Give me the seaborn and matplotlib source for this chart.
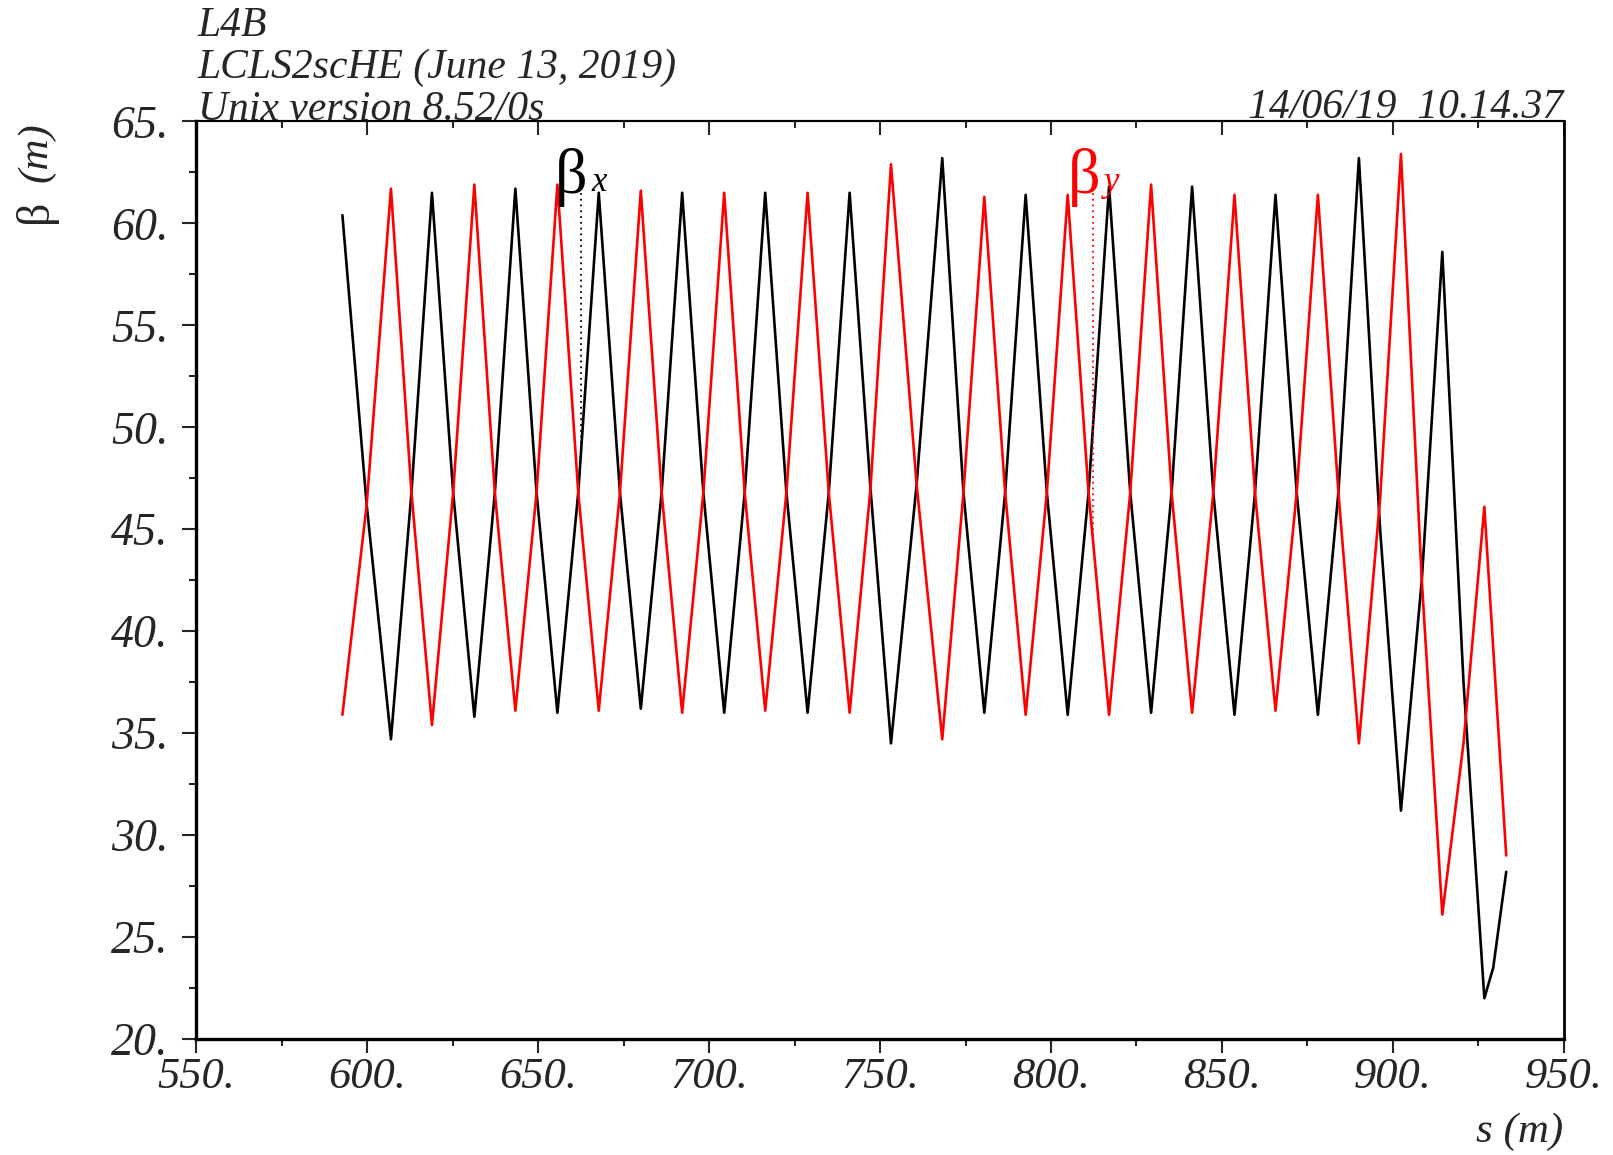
import numpy as np
import pandas as pd
import matplotlib
matplotlib.use("Agg")
import matplotlib.pyplot as plt
import seaborn as sns
from matplotlib.ticker import MultipleLocator, FormatStrFormatter

# ------------------ data ------------------
# peaks, valleys and the crossing level half way between them
s_x = [592.7, 599.8, 606.9, 612.9, 618.9, 625.1, 631.3, 637.3, 643.3, 649.5,
       655.6, 661.7, 667.7, 673.9, 680.0, 686.1, 692.1, 698.3, 704.4, 710.4,
       716.4, 722.6, 728.8, 735.0, 741.1, 747.2, 753.2, 760.7, 768.2, 774.4,
       780.5, 786.6, 792.6, 798.8, 804.9, 811.0, 817.0, 823.2, 829.3, 835.3,
       841.3, 847.5, 853.7, 859.7, 865.7, 871.9, 878.1, 884.1, 890.1, 896.3,
       902.4, 908.5, 914.5, 920.7, 926.8, 929.4, 933.2]
beta_x = [60.4, 46.2, 34.7, 46.8, 61.5, 46.8, 35.8, 46.8, 61.7, 46.8,
          36.0, 46.8, 61.5, 46.8, 36.2, 46.8, 61.5, 46.8, 36.0, 46.8,
          61.5, 46.8, 36.0, 46.8, 61.5, 47.0, 34.5, 47.2, 63.2, 46.8,
          36.0, 46.8, 61.4, 46.8, 35.9, 46.8, 61.8, 46.8, 36.0, 46.8,
          61.8, 46.8, 35.9, 46.8, 61.4, 46.8, 35.9, 46.8, 63.2, 45.0,
          31.2, 42.5, 58.6, 37.5, 22.0, 23.5, 28.2]

s_y = [592.7, 599.8, 606.9, 612.9, 618.9, 625.1, 631.3, 637.3, 643.3, 649.5,
       655.6, 661.7, 667.7, 673.9, 680.0, 686.1, 692.1, 698.3, 704.4, 710.4,
       716.4, 722.6, 728.8, 735.0, 741.1, 747.2, 753.2, 760.7, 768.2, 774.4,
       780.5, 786.6, 792.6, 798.8, 804.9, 811.0, 817.0, 823.2, 829.3, 835.3,
       841.3, 847.5, 853.7, 859.7, 865.7, 871.9, 878.1, 884.1, 890.1, 896.3,
       902.4, 908.5, 914.5, 920.7, 926.8, 933.2]
beta_y = [35.9, 46.2, 61.7, 46.8, 35.4, 46.8, 61.9, 46.8, 36.1, 46.8,
          61.9, 46.8, 36.1, 46.8, 61.6, 46.8, 36.0, 46.8, 61.5, 46.8,
          36.1, 46.8, 61.5, 46.8, 36.0, 47.0, 62.9, 47.2, 34.7, 46.8,
          61.3, 46.8, 35.9, 46.8, 61.4, 46.8, 35.9, 46.8, 61.9, 46.8,
          36.0, 46.8, 61.4, 46.8, 36.1, 46.8, 61.4, 46.8, 34.5, 46.5,
          63.4, 42.5, 26.1, 34.5, 46.1, 29.0]

# curve labels: position (s, beta) and where the dotted marker sits
label_s = [655.0, 804.9]
label_beta = [61.5, 61.5]
marker_s = [662.6, 812.4]
label_sub = ["x", "y"]
colors = ["black", "red"]

header_lines = ["L4B", "LCLS2scHE (June 13, 2019)", "Unix version 8.52/0s"]
stamp = "14/06/19  10.14.37"

# ------------------ plot ------------------
sns.set_style("white")
plt.rcParams["font.family"] = ["Liberation Serif", "DejaVu Serif"]

fig = plt.figure(figsize=(16.13, 11.55), dpi=100)
ax = fig.add_axes([0.1218, 0.1004, 0.8476, 0.7945])

df_x = pd.DataFrame({"s": s_x, "beta": beta_x})
df_y = pd.DataFrame({"s": s_y, "beta": beta_y})
sns.lineplot(data=df_x, x="s", y="beta", color="black", lw=1.9,
             sort=False, estimator=None, ax=ax)
sns.lineplot(data=df_y, x="s", y="beta", color="red", lw=1.9,
             sort=False, estimator=None, ax=ax)

# labels with dotted markers down to their curve
curves = [(s_x, beta_x), (s_y, beta_y)]
for i in range(2):
    cs, cb = curves[i]
    end = np.interp(marker_s[i], cs, cb)
    ax.plot([marker_s[i], marker_s[i]], [label_beta[i], end], ls=(0, (1, 2.2)),
            color=colors[i], lw=1.3)
    ax.text(label_s[i], label_beta[i], "\u03b2", fontsize=46, color=colors[i],
            ha="left", va="baseline")
    ax.text(label_s[i] + 10.6, label_beta[i] + 0.1, label_sub[i], fontsize=25,
            style="italic", color=colors[i], ha="left", va="baseline")

ax.set_xlim(550, 950)
ax.set_ylim(20, 65)
ax.xaxis.set_major_locator(MultipleLocator(50))
ax.xaxis.set_minor_locator(MultipleLocator(25))
ax.yaxis.set_major_locator(MultipleLocator(5))
ax.yaxis.set_minor_locator(MultipleLocator(2.5))
ax.xaxis.set_major_formatter(FormatStrFormatter("%d."))
ax.yaxis.set_major_formatter(FormatStrFormatter("%d."))
ax.set_xlabel("")
ax.set_ylabel("")

ax.tick_params(axis="both", which="major", direction="out", length=10, width=1.5,
               labelsize=33, bottom=True, left=True, top=False, right=False)
ax.tick_params(axis="both", which="minor", direction="out", length=5, width=1.5,
               bottom=True, left=True, top=False, right=False)
ax.tick_params(axis="x", which="major", pad=3, labelsize=32)
ax.tick_params(axis="y", which="major", pad=10)
for lab in ax.get_xticklabels() + ax.get_yticklabels():
    lab.set_fontstyle("italic")

# inward ticks along the top edge
top = ax.secondary_xaxis("top")
top.xaxis.set_major_locator(MultipleLocator(50))
top.xaxis.set_minor_locator(MultipleLocator(25))
top.tick_params(which="major", direction="in", length=10, width=1.5, labeltop=False)
top.tick_params(which="minor", direction="in", length=5, width=1.5)
top.spines["top"].set_linewidth(1.5)

for side, w in [("left", 2.4), ("bottom", 2.4), ("top", 1.5), ("right", 2.0)]:
    ax.spines[side].set_visible(True)
    ax.spines[side].set_color("black")
    ax.spines[side].set_linewidth(w)

# header and axis titles
for i, line in enumerate(header_lines):
    fig.text(197.5 / 1613, 1 - (36 + 42 * i) / 1155, line, fontsize=30,
             style="italic", ha="left", va="baseline")
fig.text(1563 / 1613, 1 - 118 / 1155, stamp, fontsize=30, style="italic",
         ha="right", va="baseline")

fig.text(36 / 1613, 1 - 122 / 1155, "(m)", fontsize=31, style="italic",
         rotation=90, ha="center", va="top")
fig.text(36 / 1613, 1 - 200 / 1155, "\u03b2", fontsize=33,
         rotation=90, ha="center", va="top")
fig.text(1563 / 1613, 1 - 1142 / 1155, "s (m)", fontsize=31, style="italic",
         ha="right", va="baseline")

fig.savefig("out.png", dpi=100)
